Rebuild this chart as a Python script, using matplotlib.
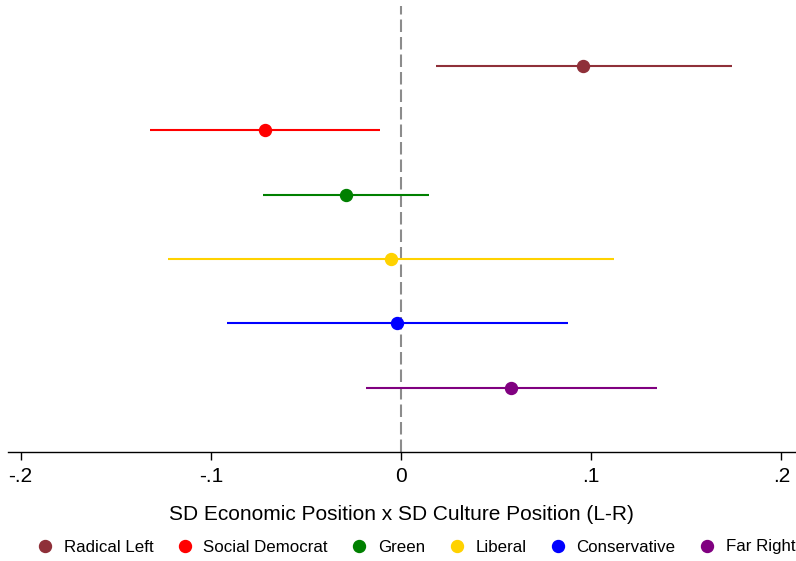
import matplotlib
matplotlib.use('Agg')
import matplotlib.pyplot as plt
from matplotlib.lines import Line2D

# data
parties = ['Radical Left', 'Social Democrat', 'Green', 'Liberal', 'Conservative', 'Far Right']
estimates = [0.0956, -0.0715, -0.0288, -0.0053, -0.0019, 0.0580]
ci_low = [0.0184, -0.1320, -0.0725, -0.1225, -0.0913, -0.0184]
ci_high = [0.1738, -0.0110, 0.0147, 0.1120, 0.0876, 0.1344]
colors = ['#8f3039', '#ff0000', '#008000', '#ffd200', '#0000ff', '#800080']
ticks = [-0.2, -0.1, 0, 0.1, 0.2]
tick_labels = ['-.2', '-.1', '0', '.1', '.2']

plt.rcParams['font.family'] = ['Liberation Sans', 'DejaVu Sans']

fig = plt.figure(figsize=(7.96, 5.61), dpi=100)
W, H = 796, 561
ax = fig.add_axes([8 / W, 1 - 452 / H, (795 - 8) / W, (452 - 6) / H])

n = len(parties)
ypos = [n - i for i in range(n)]

ax.axvline(0, color='#8c8c8c', lw=1.5, linestyle=(0, (6, 2.4)), zorder=1)

for y, est, lo, hi, c in zip(ypos, estimates, ci_low, ci_high, colors):
    ax.plot([lo, hi], [y, y], color=c, lw=1.5, solid_capstyle='butt', zorder=2)
    ax.plot(est, y, 'o', color=c, markersize=8.6, zorder=3)

ax.set_xlim(-0.2066, 0.2071)
ax.set_ylim(0, n + 60 / 64.3)
ax.set_yticks([])
ax.set_xticks(ticks)
ax.set_xticklabels(tick_labels, fontsize=15)
ax.tick_params(axis='x', length=5.5, width=1, pad=5, colors='black')
for s in ['top', 'right', 'left']:
    ax.spines[s].set_visible(False)
ax.spines['bottom'].set_linewidth(1)
ax.set_xlabel('SD Economic Position x SD Culture Position (L-R)', fontsize=15, labelpad=14)

handles = [Line2D([], [], marker='o', linestyle='', color=c, markersize=8.6) for c in colors]
fig.legend(handles, parties, loc='center', bbox_to_anchor=(0.5225, 1 - 547 / H), ncol=6,
           frameon=False, fontsize=12.2, handletextpad=0.6, columnspacing=1.36,
           handlelength=1.0, borderaxespad=0)

fig.savefig('out.png', dpi=100)
